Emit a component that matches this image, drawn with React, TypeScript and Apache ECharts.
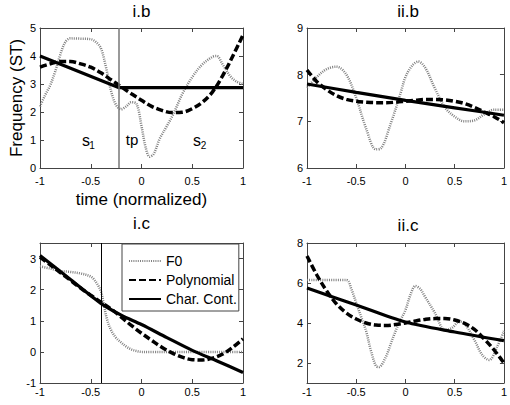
import React, { useEffect, useRef } from "react";
import * as echarts from "echarts";

const FONT = '"Liberation Sans", Arial, Helvetica, sans-serif';
const AX = "#444";

const xTicks = [-1, -0.5, 0, 0.5, 1];
const step21 = [-1, -0.9, -0.8, -0.7, -0.6, -0.5, -0.4, -0.3, -0.2, -0.1, 0, 0.1, 0.2, 0.3, 0.4, 0.5, 0.6, 0.7, 0.8, 0.9, 1];

// panel i.b
const ibYTicks = [0, 1, 2, 3, 4, 5];
const ibF0X = [-1, -0.95, -0.9, -0.85, -0.8, -0.75, -0.7, -0.6, -0.5, -0.45, -0.4, -0.35, -0.3, -0.25, -0.2, -0.15, -0.1, -0.05, 0, 0.04, 0.08, 0.12, 0.18, 0.25, 0.31, 0.41, 0.51, 0.6, 0.7, 0.74, 0.8, 0.87, 0.93, 1];
const ibF0Y = [2.2, 2.6, 2.95, 3.45, 4.05, 4.5, 4.63, 4.62, 4.6, 4.5, 4.28, 3.6, 2.75, 2.25, 2.1, 2.2, 2.35, 2.3, 1.5, 0.75, 0.4, 0.5, 1.05, 1.5, 1.9, 2.7, 3.3, 3.7, 3.97, 4.0, 3.7, 3.3, 3.1, 3.0];
const ibPolyY = [3.6, 3.72, 3.8, 3.8, 3.72, 3.6, 3.4, 3.15, 2.9, 2.65, 2.42, 2.2, 2.06, 1.98, 1.99, 2.12, 2.35, 2.72, 3.3, 4.0, 4.75];
const ibCharX = [-1, -0.22, 1];
const ibCharY = [4.0, 2.87, 2.87];
const ibTurn = -0.22;

// panel ii.b
const iibYTicks = [6, 7, 8, 9];
const iibF0X = [-1, -0.9, -0.8, -0.7, -0.6, -0.5, -0.4, -0.3, -0.25, -0.15, -0.05, 0, 0.07, 0.13, 0.2, 0.3, 0.4, 0.5, 0.6, 0.7, 0.8, 0.9, 1];
const iibF0Y = [7.72, 7.95, 8.12, 8.17, 8.0, 7.5, 6.85, 6.4, 6.42, 6.95, 7.6, 7.95, 8.2, 8.28, 8.15, 7.7, 7.3, 7.1, 7.0, 7.02, 7.15, 7.25, 7.25];
const iibPolyY = [8.1, 7.85, 7.68, 7.55, 7.47, 7.43, 7.41, 7.4, 7.4, 7.41, 7.43, 7.45, 7.47, 7.47, 7.46, 7.43, 7.38, 7.3, 7.2, 7.1, 6.97];
const iibCharX = [-1, -0.5, 0, 0.5, 1];
const iibCharY = [7.8, 7.62, 7.45, 7.29, 7.13];

// panel i.c
const icYTicks = [-1, 0, 1, 2, 3];
const icF0X = [-1, -0.9, -0.8, -0.7, -0.6, -0.5, -0.45, -0.4, -0.37, -0.34, -0.3, -0.25, -0.2, -0.15, -0.1, -0.05, 0, 1];
const icF0Y = [2.75, 2.68, 2.6, 2.57, 2.52, 2.42, 2.25, 1.95, 1.5, 1.05, 0.7, 0.45, 0.3, 0.17, 0.08, 0.03, 0, 0];
const icPolyY = [3.05, 2.8, 2.55, 2.3, 2.05, 1.82, 1.6, 1.38, 1.12, 0.85, 0.6, 0.37, 0.15, -0.03, -0.17, -0.25, -0.26, -0.2, -0.07, 0.15, 0.42];
const icCharX = [-1, -0.7, -0.4, -0.2, 0, 0.25, 0.5, 0.75, 1];
const icCharY = [3.1, 2.33, 1.56, 1.18, 0.88, 0.46, 0.05, -0.3, -0.66];
const icTurn = -0.4;

// panel ii.c
const iicYTicks = [2, 4, 6, 8];
const iicF0X = [-1, -0.6, -0.55, -0.5, -0.45, -0.4, -0.35, -0.3, -0.27, -0.2, -0.15, -0.1, -0.05, 0, 0.05, 0.1, 0.15, 0.2, 0.3, 0.4, 0.47, 0.55, 0.6, 0.7, 0.78, 0.85, 0.93, 1];
const iicF0Y = [6.15, 6.15, 5.7, 5.0, 4.3, 3.6, 2.6, 1.85, 1.8, 2.3, 2.95, 3.6, 4.15, 4.65, 5.4, 5.85, 5.7, 5.3, 4.5, 3.65, 3.75, 4.07, 3.98, 3.15, 2.4, 2.15, 2.8, 3.6];
const iicPolyY = [7.35, 6.4, 5.6, 4.95, 4.5, 4.2, 4.0, 3.9, 3.88, 3.92, 4.0, 4.1, 4.18, 4.22, 4.22, 4.15, 3.98, 3.68, 3.2, 2.65, 2.0];
const iicCharX = [-1, -0.5, 0, 0.5, 1];
const iicCharY = [5.75, 4.9, 4.05, 3.55, 3.12];

const seriesNames = ["F0", "Polynomial", "Char. Cont."];
const titles = ["i.b", "ii.b", "i.c", "ii.c"];

function zip(xs: number[], ys: number[]) {
  return xs.map((x, i) => [x, ys[i]]);
}

export default function App() {
  const ref = useRef<HTMLDivElement>(null);
  useEffect(() => {
    if (!ref.current) return;
    const chart = echarts.init(ref.current, null, { renderer: "svg" });

    const grids = [
      { left: 40, top: 28, width: 203, height: 140 },
      { left: 307, top: 28, width: 202, height: 140 },
      { left: 40, top: 243, width: 203, height: 140 },
      { left: 307, top: 243, width: 202, height: 140 },
    ];
    const yRanges = [
      [0, 5],
      [6, 9],
      [-1, 3.5],
      [1, 8],
    ];
    const yTickSets = [ibYTicks, iibYTicks, icYTicks, iicYTicks];
    const xMargins = [7, 7, 3, 3];

    const xAxis: any[] = [];
    const yAxis: any[] = [];
    grids.forEach((g, i) => {
      const base = {
        type: "value",
        gridIndex: i,
        splitLine: { show: false },
        axisLine: { show: true, onZero: false, lineStyle: { color: AX, width: 1 } },
      };
      xAxis.push({
        ...base,
        min: -1,
        max: 1,
        position: "bottom",
        axisTick: { show: true, inside: true, length: 4, customValues: xTicks, lineStyle: { color: AX } },
        axisLabel: { customValues: xTicks, margin: xMargins[i], fontSize: 11, color: "#000", fontFamily: FONT },
        ...(i === 0
          ? {
              name: "time (normalized)",
              nameLocation: "middle",
              nameGap: 23,
              nameTextStyle: { fontSize: 17, color: "#000", fontFamily: FONT },
            }
          : {}),
      });
      xAxis.push({
        ...base,
        min: -1,
        max: 1,
        position: "top",
        axisTick: { show: true, inside: true, length: 4, customValues: xTicks, lineStyle: { color: AX } },
        axisLabel: { show: false },
      });
      yAxis.push({
        ...base,
        min: yRanges[i][0],
        max: yRanges[i][1],
        position: "left",
        axisTick: { show: true, inside: true, length: 4, customValues: yTickSets[i], lineStyle: { color: AX } },
        axisLabel: { customValues: yTickSets[i], margin: 4, fontSize: 11, color: "#000", fontFamily: FONT },
        ...(i === 0
          ? {
              name: "Frequency (ST)",
              nameLocation: "middle",
              nameGap: 15,
              nameTextStyle: { fontSize: 17, color: "#000", fontFamily: FONT },
            }
          : {}),
      });
      yAxis.push({
        ...base,
        min: yRanges[i][0],
        max: yRanges[i][1],
        position: "right",
        axisTick: { show: true, inside: true, length: 4, customValues: yTickSets[i], lineStyle: { color: AX } },
        axisLabel: { show: false },
      });
    });

    const f0Style = { color: "#808080", width: 2.5, type: [1, 1.2] };
    const polyStyle = { color: "#000", width: 3.5, type: [7, 3] };
    const charStyle = { color: "#000", width: 3.2, type: "solid" };

    const panelData = [
      { f0: zip(ibF0X, ibF0Y), poly: zip(step21, ibPolyY), ch: zip(ibCharX, ibCharY), turn: ibTurn, turnColor: "#777", turnWidth: 1.5, chSmooth: false },
      { f0: zip(iibF0X, iibF0Y), poly: zip(step21, iibPolyY), ch: zip(iibCharX, iibCharY), turn: null, chSmooth: 0.3 },
      { f0: zip(icF0X, icF0Y), poly: zip(step21, icPolyY), ch: zip(icCharX, icCharY), turn: icTurn, turnColor: "#000", turnWidth: 1, chSmooth: 0.3 },
      { f0: zip(iicF0X, iicF0Y), poly: zip(step21, iicPolyY), ch: zip(iicCharX, iicCharY), turn: null, chSmooth: 0.3 },
    ];

    const series: any[] = [];
    panelData.forEach((p: any, i) => {
      const common = { type: "line", xAxisIndex: 2 * i, yAxisIndex: 2 * i, symbol: "none", showSymbol: false };
      series.push({
        ...common,
        name: seriesNames[0],
        data: p.f0,
        smooth: 0.35,
        lineStyle: f0Style,
        itemStyle: { color: "#808080" },
        ...(p.turn !== null
          ? {
              markLine: {
                silent: true,
                symbol: ["none", "none"],
                label: { show: false },
                lineStyle: { color: p.turnColor, width: p.turnWidth, type: "solid" },
                data: [{ xAxis: p.turn }],
              },
            }
          : {}),
      });
      series.push({
        ...common,
        name: seriesNames[1],
        data: p.poly,
        smooth: 0.35,
        lineStyle: polyStyle,
        itemStyle: { color: "#000" },
      });
      series.push({
        ...common,
        name: seriesNames[2],
        data: p.ch,
        smooth: p.chSmooth,
        lineStyle: charStyle,
        itemStyle: { color: "#000" },
      });
    });

    const titleCenters = [
      [141.5, 3],
      [408, 3],
      [141.5, 215],
      [408, 217],
    ];

    chart.setOption({
      animation: false,
      textStyle: { fontFamily: FONT },
      title: titles.map((t, i) => ({
        text: t,
        left: titleCenters[i][0],
        top: titleCenters[i][1],
        textAlign: "center",
        padding: 0,
        textStyle: { fontSize: 17, fontWeight: "normal", color: "#000", fontFamily: FONT },
      })),
      grid: grids,
      xAxis,
      yAxis,
      legend: {
        data: seriesNames,
        orient: "vertical",
        left: 122,
        top: 244,
        backgroundColor: "#fff",
        borderColor: "#444",
        borderWidth: 1,
        borderRadius: 0,
        padding: [10, 2, 5, 6],
        itemGap: 5,
        itemWidth: 32,
        itemHeight: 14,
        selectedMode: false,
        itemStyle: { opacity: 0, borderWidth: 0 },
        textStyle: { fontSize: 14, color: "#000", fontFamily: FONT },
      },
      graphic: [
        { type: "text", x: 86, y: 140, style: { text: "s", fontSize: 16, fontFamily: FONT, fill: "#000", align: "center", verticalAlign: "middle" } },
        { type: "text", x: 92, y: 145, style: { text: "1", fontSize: 10, fontFamily: FONT, fill: "#000", align: "center", verticalAlign: "middle" } },
        { type: "text", x: 132, y: 139, style: { text: "tp", fontSize: 15, fontFamily: FONT, fill: "#000", align: "center", verticalAlign: "middle" } },
        { type: "text", x: 197, y: 140, style: { text: "s", fontSize: 16, fontFamily: FONT, fill: "#000", align: "center", verticalAlign: "middle" } },
        { type: "text", x: 203.5, y: 145, style: { text: "2", fontSize: 10, fontFamily: FONT, fill: "#000", align: "center", verticalAlign: "middle" } },
      ],
      series,
    });
    return () => chart.dispose();
  }, []);
  return <div ref={ref} style={{ position: "fixed", left: 0, top: 0, width: 510, height: 405, background: "#fff" }} />;
}
